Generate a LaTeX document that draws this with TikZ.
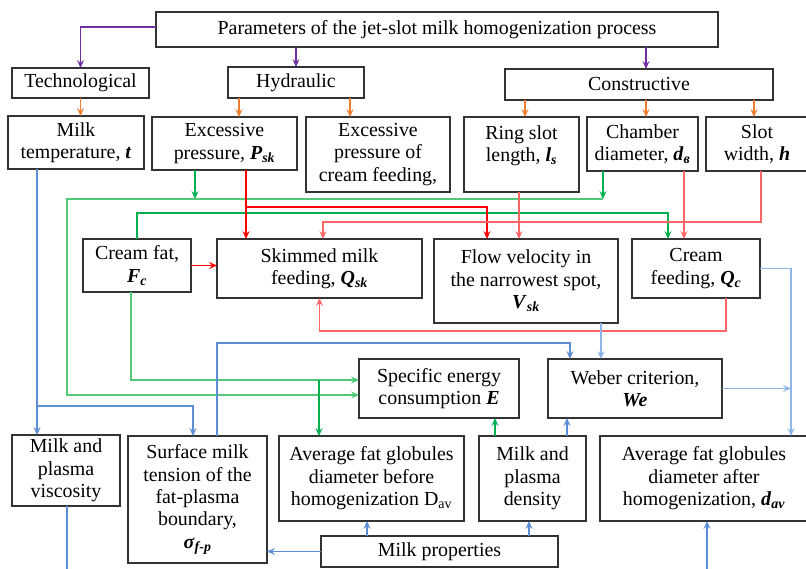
\documentclass[tikz,border=0pt]{standalone}
\usepackage{fontspec}
\setmainfont{Liberation Serif}
\usetikzlibrary{arrows.meta}
\definecolor{purpleline}{HTML}{7030A0}
\definecolor{orangeline}{HTML}{ED7D31}
\definecolor{redline}{HTML}{FF0000}
\definecolor{lightred}{HTML}{FF6666}
\definecolor{greenline}{HTML}{00B050}
\definecolor{lightgreen}{HTML}{50C878}
\definecolor{blueline}{HTML}{5B8ED6}
\definecolor{lightblue}{HTML}{8DB6E6}
\newcommand{\bfit}[1]{\textbf{\textit{#1}}}
\newcommand{\bfsub}[1]{\textsubscript{\bfit{#1}}}
\tikzset{
  base/.style={font=\fontsize{19.9}{22.4}\selectfont, align=center, inner sep=1pt, outer sep=0mm},
  block/.style={rectangle, draw=black!80, line width=1.4pt, base},
  arrow/.style={-{Stealth[length=8pt, width=7pt, inset=3pt]}, line width=1.5pt},
  link/.style={line width=1.5pt}
}

\begin{document}
\begin{tikzpicture}[x=1pt, y=-1pt]
  \useasboundingbox (0,0) rectangle (806,569);

  % groups
  \node[block, minimum width=562, minimum height=35] (params) at (437,29.5) {Parameters of the jet-slot milk homogenization process};
  \node[block, minimum width=137, minimum height=30] (tech) at (80.5,83) {Technological};
  \node[block, minimum width=136, minimum height=31] (hydr) at (296,82.5) {Hydraulic};
  \node[block, minimum width=268, minimum height=31] (constr) at (639,84.5) {Constructive};

  % input parameters
  \node[block, minimum width=136, minimum height=53] (mtemp) at (76,142.5) {Milk\\temperature, \bfit{t}};
  \node[block, minimum width=145, minimum height=53] (psk) at (224.5,143.5) {Excessive\\pressure, \bfit{P}\bfsub{sk}};
  \node[block, minimum width=144, minimum height=75] (pcream) at (378,154.5) {Excessive\\pressure of\\cream feeding,};
  \node[block, minimum width=115, minimum height=75] (ring) at (521.5,154.5) {Ring slot\\length, \bfit{l}\bfsub{s}\\\mbox{}};
  \node[block, minimum width=111, minimum height=54] (chamb) at (642.5,144) {Chamber\\diameter, \bfit{d}\bfsub{в}};
  \node[block, minimum width=102, minimum height=54] (slotw) at (757,144) {Slot\\width, \bfit{h}};

  % flows
  \node[block, minimum width=108, minimum height=53] (cfat) at (137,265.5) {Cream fat,\\\bfit{F}\bfsub{c}};
  \node[block, minimum width=205, minimum height=59] (qsk) at (319.5,268.5) {Skimmed milk\\feeding, \bfit{Q}\bfsub{sk}};
  \node[block, minimum width=184, minimum height=84] (vsk) at (526,281) {Flow velocity in\\the narrowest spot,\\\bfit{V}\bfsub{sk}};
  \node[block, minimum width=128, minimum height=59] (qc) at (696,268.5) {Cream\\feeding, \bfit{Q}\bfsub{c}};

  % results
  \node[block, minimum width=160, minimum height=59] (energy) at (439,388.5) {Specific energy\\consumption \bfit{E}};
  \node[block, minimum width=174, minimum height=59] (weber) at (635,388.5) {Weber criterion,\\\bfit{We}};

  % milk properties
  \node[block, minimum width=108, minimum height=71] (visc) at (66,470.5) {Milk and\\plasma\\viscosity};
  \node[block, minimum width=139, minimum height=127] (tension) at (197.5,499.5) {Surface milk\\tension of the\\fat-plasma\\boundary,\\\bfit{σ}\bfsub{f-p}};
  \node[block, minimum width=185, minimum height=85] (davb) at (371.5,478.5) {Average fat globules\\diameter before\\homogenization D\textsubscript{av}};
  \node[block, minimum width=107, minimum height=85] (dens) at (532.5,478.5) {Milk and\\plasma\\density};
  \node[block, minimum width=208, minimum height=85] (dava) at (704,478.5) {Average fat globules\\diameter after\\homogenization, \bfit{d}\bfsub{av}};
  \node[block, minimum width=237, minimum height=31] (mprop) at (439.5,551.5) {Milk properties};

  \coordinate (gbus) at (67,199);
  \coordinate (gjoin) at (319,380);
  \coordinate (viscout) at (67,569);
  \coordinate (davain) at (707,569);

  % purple
  \draw[arrow, purpleline] ([yshift=2.5pt]params.west) -| (tech.north);
  \draw[arrow, purpleline] (hydr.north |- params.south) -- (hydr.north);
  \draw[arrow, purpleline] ([xshift=7pt]constr.north |- params.south) -- ([xshift=7pt]constr.north);

  % orange
  \draw[arrow, orangeline] (tech.south) -- (tech.south |- mtemp.north);
  \draw[arrow, orangeline] ([xshift=-57pt]hydr.south) -- ([xshift=-57pt]hydr.south |- psk.north);
  \draw[arrow, orangeline] ([xshift=54pt]hydr.south) -- ([xshift=54pt]hydr.south |- pcream.north);
  \draw[arrow, orangeline] ([xshift=-114pt]constr.south) -- ([xshift=-114pt]constr.south |- ring.north);
  \draw[arrow, orangeline] ([xshift=7pt]constr.south) -- ([xshift=7pt]constr.south |- chamb.north);
  \draw[arrow, orangeline] ([xshift=115pt]constr.south) -- ([xshift=115pt]constr.south |- slotw.north);

  % green
  \draw[arrow, greenline] ([xshift=-29.5pt]psk.south) -- ([xshift=-29.5pt]psk.south |- gbus);
  \draw[arrow, greenline] ([xshift=-39.5pt]chamb.south) -- ([xshift=-39.5pt]chamb.south |- gbus);
  \draw[arrow, lightgreen] ([xshift=-39.5pt]chamb.south |- gbus) -- (gbus) |- ([yshift=-6.5pt]energy.west);
  \draw[arrow, greenline] (cfat.north) -- ++(0,-26) -| ([xshift=-28pt]qc.north);
  \draw[arrow, lightgreen] ([xshift=-6pt]cfat.south) |- ([yshift=8.5pt]energy.west);
  \draw[arrow, greenline] (gjoin) -- (gjoin |- davb.north);
  \draw[arrow, greenline] ([xshift=-37.5pt]dens.north) -- ([xshift=-37.5pt]dens.north |- energy.south);

  % red
  \draw[arrow, redline] ([xshift=21.5pt]psk.south) -- ([xshift=21.5pt]psk.south |- qsk.north);
  \draw[arrow, redline] ([xshift=21.5pt]psk.south) ++(0,37) -| ([xshift=-39pt]vsk.north);
  \draw[arrow, lightred] ([xshift=-2.5pt]ring.south) -- ([xshift=-2.5pt]ring.south |- vsk.north);
  \draw[arrow, lightred] ([xshift=41.5pt]chamb.south) -- ([xshift=41.5pt]chamb.south |- qc.north);
  \draw[arrow, lightred] ([xshift=4pt]slotw.south) -- ++(0,51) -| ([xshift=3.5pt]qsk.north);
  \draw[arrow, redline] (cfat.east) -- (cfat.east -| qsk.west);
  \draw[arrow, lightred] ([xshift=30pt]qc.south) -- ++(0,33) -| (qsk.south);

  % blue
  \draw[arrow, blueline] ([xshift=-39pt]mtemp.south) -- ([xshift=-39pt]mtemp.south |- visc.north);
  \draw[arrow, blueline] ([xshift=-39pt]mtemp.south) ++(0,237) -| ([xshift=-4.5pt]tension.north);
  \draw[link, blueline] (visc.south -| viscout) -- (viscout);
  \draw[arrow, blueline] ([xshift=19.5pt]tension.north) -- ++(0,-93) -| ([xshift=-65pt]weber.north);
  \draw[arrow, lightblue] ([xshift=75pt]vsk.south) -- ([xshift=75pt]vsk.south |- weber.north);
  \draw[arrow, lightblue] (qc.east) -| ([xshift=87pt]dava.north);
  \draw[arrow, lightblue] (weber.east) -- ([xshift=87pt]dava.north |- weber.east);
  \draw[arrow, blueline] (mprop.west) -- (mprop.west -| tension.east);
  \draw[arrow, blueline] ([xshift=-72.5pt]mprop.north) -- ([xshift=-72.5pt]mprop.north |- davb.south);
  \draw[arrow, blueline] ([xshift=89.5pt]mprop.north) -- ([xshift=89.5pt]mprop.north |- dens.south);
  \draw[arrow, blueline] ([xshift=34.5pt]dens.north) -- ([xshift=34.5pt]dens.north |- weber.south);
  \draw[arrow, blueline] (davain) -- (davain |- dava.south);
\end{tikzpicture}
\end{document}
